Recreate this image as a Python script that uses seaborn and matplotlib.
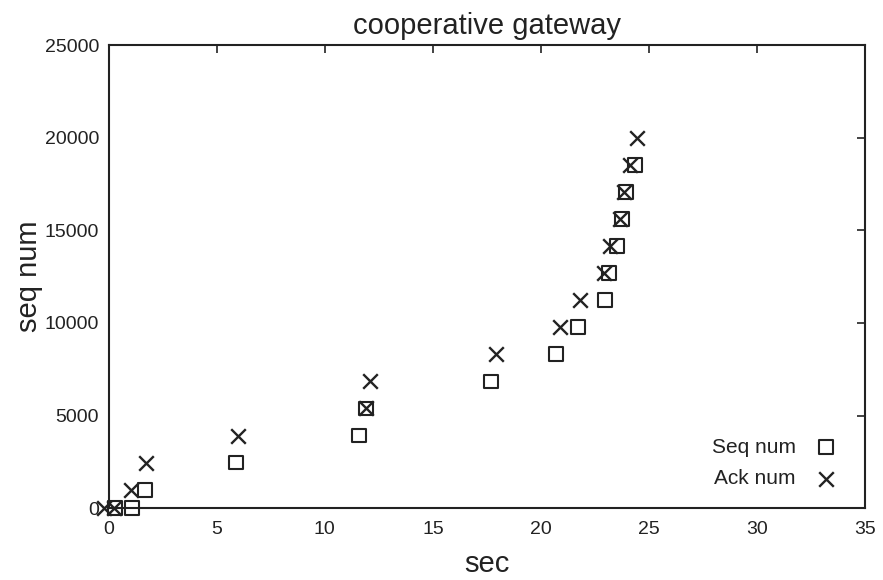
import matplotlib
matplotlib.use("Agg")
import matplotlib.pyplot as plt
import seaborn as sns

# Segment send times (s) and sequence numbers
seq_time = [0.3, 1.1, 1.7, 5.9, 11.6, 11.9, 17.7, 20.7, 21.7, 22.95, 23.15, 23.5, 23.75, 23.95, 24.35]
seq_num = [0, 0, 1000, 2460, 3920, 5380, 6840, 8300, 9760, 11220, 12680, 14140, 15600, 17060, 18520]

# ACK arrival times (s) and acknowledged numbers
ack_time = [-0.2, 0.25, 1.05, 1.75, 6.0, 11.9, 12.1, 17.9, 20.9, 21.8, 22.9, 23.2, 23.65, 23.85, 24.1, 24.45]
ack_num = [0, 0, 1000, 2460, 3920, 5380, 6840, 8300, 9760, 11220, 12680, 14140, 15600, 17060, 18520, 19980]

x_ticks = [0, 5, 10, 15, 20, 25, 30, 35]
y_ticks = [0, 5000, 10000, 15000, 20000, 25000]

sns.set_style("white")
plt.rcParams["font.family"] = ["Liberation Sans", "DejaVu Sans"]

ink = "#222222"
fig, ax = plt.subplots(figsize=(8.83, 5.8), dpi=100)
fig.subplots_adjust(left=0.123, right=0.98, top=0.922, bottom=0.124)

sns.scatterplot(x=seq_time, y=seq_num, ax=ax, marker="s", s=100,
                color=ink, facecolor="none", edgecolor=ink, linewidth=1.5,
                label="Seq num", clip_on=False, zorder=3)
sns.scatterplot(x=ack_time, y=ack_num, ax=ax, marker="x", s=110,
                color=ink, linewidth=1.7,
                label="Ack num", clip_on=False, zorder=3)

ax.set_xlim(0, 35)
ax.set_ylim(0, 25000)
ax.set_xticks(x_ticks)
ax.set_yticks(y_ticks)
ax.tick_params(direction="in", length=6, width=1.2, top=True, right=True,
               labelsize=14, colors=ink)
ax.tick_params(axis="x", pad=9)
ax.tick_params(axis="y", pad=7)
for sp in ax.spines.values():
    sp.set_visible(True)
    sp.set_color(ink)
    sp.set_linewidth(1.5)

ax.set_title("cooperative gateway", fontsize=21, color=ink, pad=8)
ax.set_xlabel("sec", fontsize=21, color=ink, labelpad=9)
ax.set_ylabel("seq num", fontsize=21, color=ink, labelpad=1)

leg = ax.legend(loc="lower right", bbox_to_anchor=(1.0, 0.002), frameon=False,
                markerfirst=False, fontsize=15, handletextpad=0.43,
                labelspacing=0.6)
for t in leg.get_texts():
    t.set_color(ink)

fig.savefig("out.png", dpi=100, facecolor="white")
